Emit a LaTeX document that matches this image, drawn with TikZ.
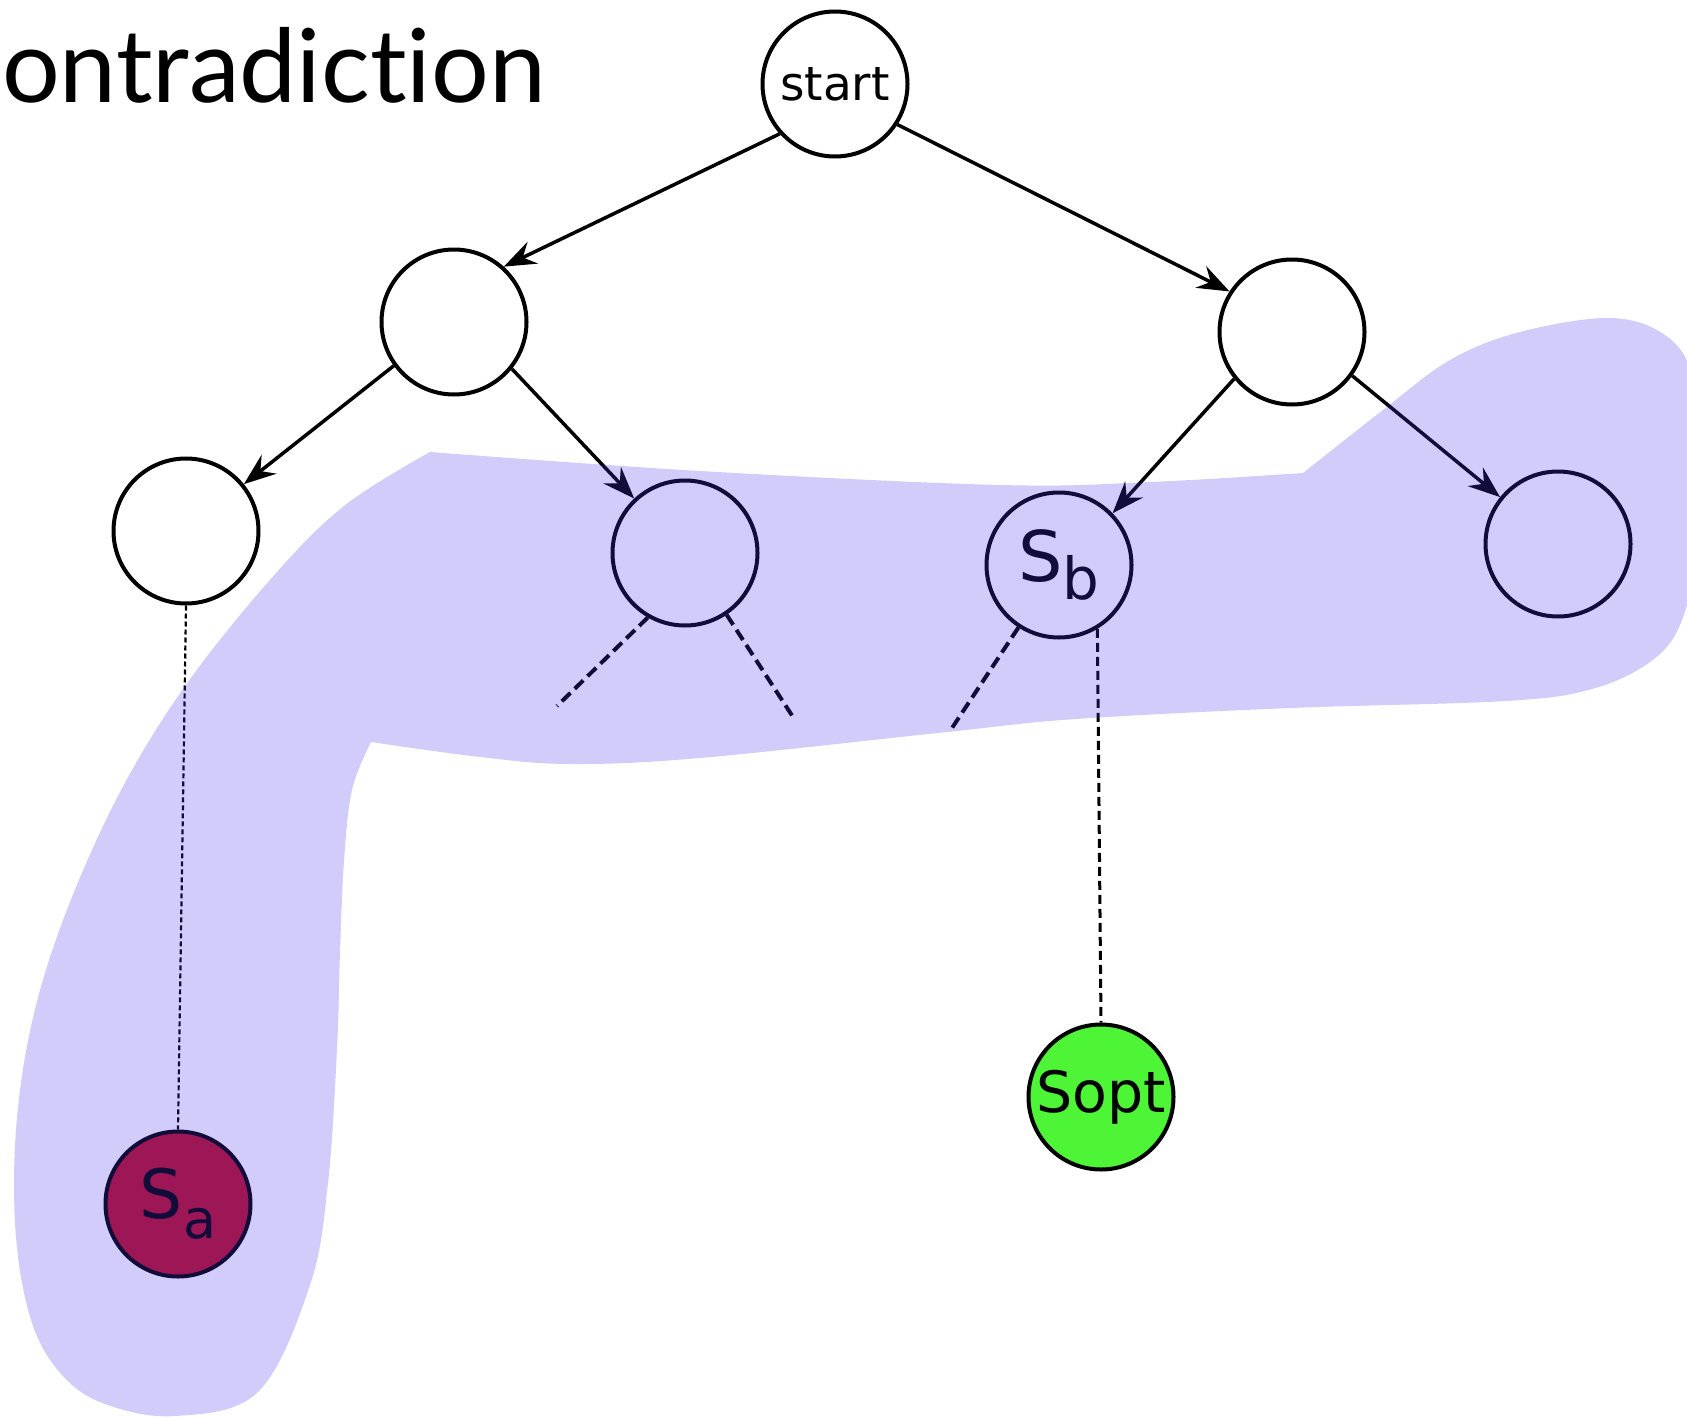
\documentclass[tikz,border=0pt]{standalone}
\usepackage{fontspec}
\setmainfont{DejaVu Sans}
\newfontfamily\titlefont[Ligatures={NoCommon}]{Lato}
\usetikzlibrary{arrows.meta}
\definecolor{blobblue}{RGB}{70,50,230}
\definecolor{safill}{RGB}{187,15,38}
\definecolor{optgreen}{RGB}{78,245,55}
\begin{document}
\begin{tikzpicture}[x=1pt,y=-1pt,
  state/.style={circle, draw=black, line width=4pt, fill=white, minimum size=145pt, inner sep=0pt, text=black},
  arr/.style={line width=3.5pt, -{Stealth[length=32pt,width=24pt,inset=11pt]}},
  stub/.style={line width=4pt, dash pattern=on 12pt off 6pt},
  thindash/.style={line width=2.2pt, dash pattern=on 5pt off 3pt},
  optdash/.style={line width=3pt, dash pattern=on 9pt off 5pt},
  blob/.style={fill=blobblue, fill opacity=0.25}]
\useasboundingbox (0,0) rectangle (1687,1418);

\node[anchor=base east, font=\titlefont\fontsize{102pt}{102pt}\selectfont, inner sep=0pt] (title) at (546,103) {ontradiction};

\node[state, font=\fontsize{47pt}{47pt}\selectfont] (start) at (835,84) {start};
\node[state] (l1) at (454,322) {};
\node[state] (r1) at (1292,332) {};
\node[state] (l2a) at (186,531) {};
\node[state] (l2b) at (685,553) {};
\node[state, font=\fontsize{70pt}{70pt}\selectfont] (sb) at (1059,565) {S\raisebox{-18pt}{\fontsize{58pt}{58pt}\selectfont b}};
\node[state] (l2d) at (1558,544) {};
\node[state, fill=safill, font=\fontsize{68pt}{68pt}\selectfont] (sa) at (178,1204) {S\raisebox{-20pt}{\fontsize{54pt}{54pt}\selectfont a}};
\node[state, fill=optgreen, font=\fontsize{57pt}{57pt}\selectfont] (sopt) at (1101,1097) {Sopt};

\draw[arr] (start.-138) -- (l1.48);
\draw[arr] (start.-33) -- (r1.147);
\draw[arr] (l1.-144) -- (l2a.39);
\draw[arr] (l1.-39) -- (l2b.133);
\draw[arr] (r1.-141) -- (sb.44);
\draw[arr] (r1.-36) -- (l2d.141);

\coordinate (b1) at (557,706);
\coordinate (b2) at (793,717);
\coordinate (b3) at (952,728);
\draw[stub] (l2b.-120) -- (b1);
\draw[stub] (l2b.-56) -- (b2);
\draw[stub] (sb.-123) -- (b3);
\draw[thindash] (l2a.south) -- (sa.north);
\draw[optdash] (sb.-59) -- (sopt.north);

\fill[blob]
  plot[smooth, tension=0.6] coordinates {(430,452) (700,471) (1000,485) (1150,482) (1303,473)}
  -- plot[smooth, tension=0.6] coordinates {(1303,473) (1383,410) (1450,360) (1520,332) (1610,318) (1665,335) (1692,375) (1696,450) (1694,560) (1680,625) (1650,662) (1592,689) (1506,701) (1291,708) (1076,719) (947,732) (700,758) (570,764) (480,757) (371,742)}
  -- plot[smooth, tension=0.6] coordinates {(371,742) (352,790) (344,861) (340,952) (337,1049) (328,1183) (310,1285) (258,1392) (175,1416) (105,1404) (62,1375) (32,1323) (16,1237) (16,1130) (32,1022) (65,915) (118,796) (183,689) (269,581) (344,506) (430,452)}
  -- cycle;
\end{tikzpicture}
\end{document}
